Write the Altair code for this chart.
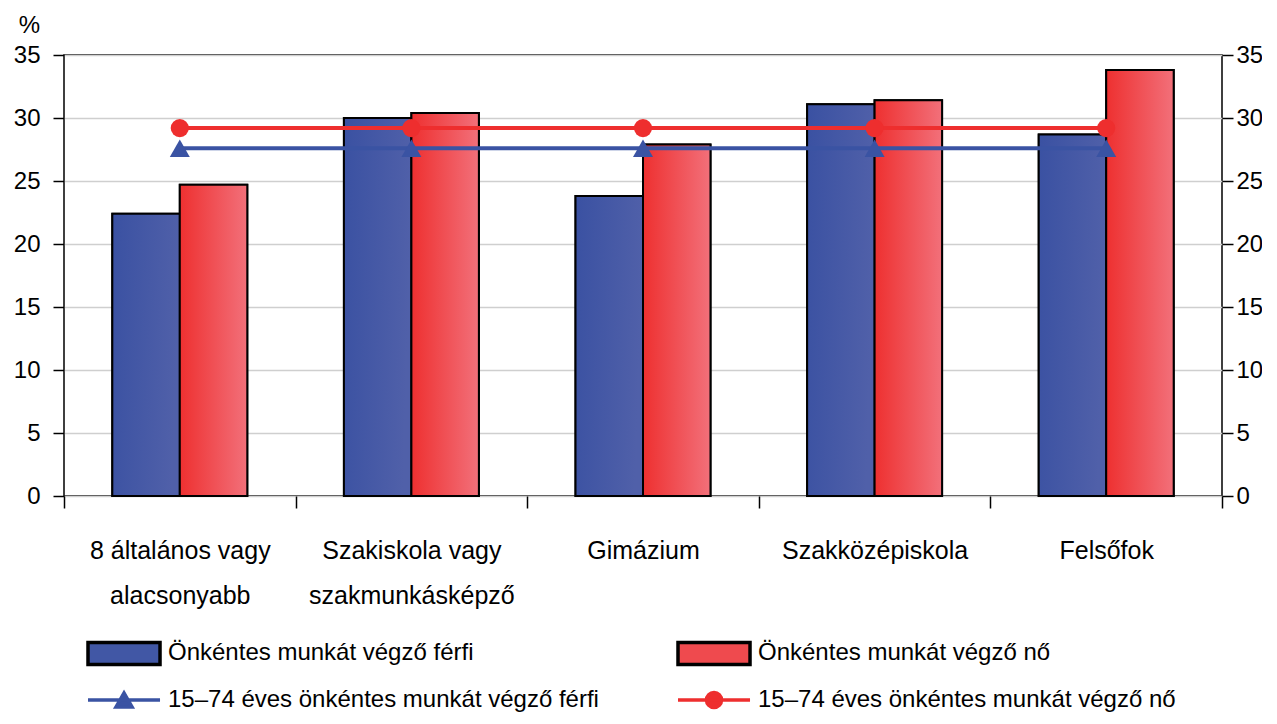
import altair as alt
import pandas as pd

categories = ["8 általános vagy|alacsonyabb", "Szakiskola vagy|szakmunkásképző",
              "Gimázium", "Szakközépiskola", "Felsőfok"]
bar_series = ["Önkéntes munkát végző férfi", "Önkéntes munkát végző nő"]
line_series = ["15–74 éves önkéntes munkát végző férfi", "15–74 éves önkéntes munkát végző nő"]
male_values = [22.4, 30.0, 23.8, 31.1, 28.7]
female_values = [24.7, 30.4, 27.9, 31.4, 33.8]
male_total = [27.6, 27.6, 27.6, 27.6, 27.6]
female_total = [29.2, 29.2, 29.2, 29.2, 29.2]
y_ticks = [0, 5, 10, 15, 20, 25, 30, 35]

bars_df = pd.DataFrame(
    [{"cat": c, "series": bar_series[0], "value": v} for c, v in zip(categories, male_values)]
    + [{"cat": c, "series": bar_series[1], "value": v} for c, v in zip(categories, female_values)]
)
lines_df = pd.DataFrame(
    [{"cat": c, "series": line_series[0], "value": v} for c, v in zip(categories, male_total)]
    + [{"cat": c, "series": line_series[1], "value": v} for c, v in zip(categories, female_total)]
)
all_series = bar_series + line_series

FONT = "Liberation Sans"
BLUE = "#4157A5"
RED = "#EF4A4E"
LBLUE = "#3A53A3"
LRED = "#EE2E2E"

blue_grad = {"gradient": "linear", "x1": 0, "y1": 0, "x2": 1, "y2": 0.15,
             "stops": [{"offset": 0, "color": "#3A51A2"}, {"offset": 1, "color": "#5060A9"}]}
red_grad = {"gradient": "linear", "x1": 0, "y1": 0, "x2": 1, "y2": 0,
            "stops": [{"offset": 0, "color": "#EE3030"}, {"offset": 1, "color": "#F2707A"}]}

# legend symbol paths (unit = 13 px, symbol spans 72 px to the right of its start)
RECT = "M-1,-0.85L4.54,-0.85L4.54,0.85L-1,0.85Z"
TRI = "M-1,0L4.54,0M1.15,0.54L1.77,-0.54L2.39,0.54Z"
CIRC = "M-1,0L4.54,0M1.19,0A0.58,0.58 0 1,1 2.35,0A0.58,0.58 0 1,1 1.19,0Z"

fill_scale = alt.Scale(domain=all_series, range=[BLUE, RED, LBLUE, LRED])
stroke_scale = alt.Scale(domain=all_series, range=["black", "black", LBLUE, LRED])
shape_scale = alt.Scale(domain=all_series, range=[RECT, RECT, TRI, CIRC])

LEG = alt.Legend(title=None, orient="none", legendX=22, legendY=583, direction="horizontal",
                 columns=2, columnPadding=72, rowPadding=13, symbolSize=676,
                 symbolStrokeWidth=3.5, symbolOpacity=1, labelFontSize=24, labelFont=FONT,
                 labelColor="black", labelOffset=52, padding=0, labelLimit=0)

x_enc = alt.X("cat:N", sort=categories,
              scale=alt.Scale(domain=categories, paddingInner=0, paddingOuter=0),
              axis=alt.Axis(title=None, labelExpr="split(datum.label, '|')", tickBand="extent",
                            tickSize=12, tickWidth=1.5, tickColor="black", labelPadding=30,
                            labelFontSize=25, labelLineHeight=45, labelFont=FONT, labelColor="black",
                            labelAngle=0, domain=False, grid=False, labelLimit=400))
y_scale = alt.Scale(domain=[0, 35], nice=False, zero=True)
y_left = alt.Y("value:Q", scale=y_scale,
               axis=alt.Axis(values=y_ticks, title="%", titleAngle=0, titleX=-35, titleY=-30,
                             titleAlign="center", titleBaseline="middle", titleFontSize=24,
                             titleFontWeight="normal", titleFont=FONT, titleColor="black",
                             grid=True, gridColor="#cfcfcf", gridWidth=1.5, domain=False,
                             tickSize=11, tickWidth=1.5, tickColor="black", labelPadding=13,
                             labelFontSize=24, labelFont=FONT, labelColor="black"))
xoff = alt.XOffset("series:N", sort=bar_series,
                   scale=alt.Scale(domain=bar_series, paddingOuter=0.716, paddingInner=0))

bar_base = alt.Chart(bars_df).mark_bar(strokeWidth=2).encode(
    x=x_enc, xOffset=xoff, y=y_left,
    fill=alt.Fill("series:N", scale=fill_scale, legend=LEG),
    stroke=alt.Stroke("series:N", scale=stroke_scale, legend=LEG),
)
bar_male = alt.Chart(bars_df).transform_filter(
    alt.datum.series == bar_series[0]
).mark_bar(fill=blue_grad, stroke="black", strokeWidth=2).encode(x=x_enc, xOffset=xoff, y=y_left)
bar_female = alt.Chart(bars_df).transform_filter(
    alt.datum.series == bar_series[1]
).mark_bar(fill=red_grad, stroke="black", strokeWidth=2).encode(x=x_enc, xOffset=xoff, y=y_left)

lines = alt.Chart(lines_df).mark_line(strokeWidth=4).encode(
    x=x_enc, y=y_left,
    stroke=alt.Stroke("series:N", scale=stroke_scale, legend=LEG),
)
pt_male = alt.Chart(lines_df).transform_filter(
    alt.datum.series == line_series[0]
).mark_point(filled=True, size=400, shape="triangle-up", color=LBLUE, opacity=1).encode(x=x_enc, y=y_left)
pt_female = alt.Chart(lines_df).transform_filter(
    alt.datum.series == line_series[1]
).mark_point(filled=True, size=330, shape="circle", color=LRED, opacity=1).encode(x=x_enc, y=y_left)

legend_layer = alt.Chart(lines_df).transform_filter("false").mark_point(filled=True).encode(
    fill=alt.Fill("series:N", scale=fill_scale, legend=LEG),
    stroke=alt.Stroke("series:N", scale=stroke_scale, legend=LEG),
    shape=alt.Shape("series:N", scale=shape_scale, legend=LEG),
)

main = alt.layer(bar_base, bar_male, bar_female, lines, pt_male, pt_female, legend_layer)

right_axis = alt.Chart(lines_df).mark_point(opacity=0).encode(
    y=alt.Y("value:Q", scale=y_scale,
            axis=alt.Axis(values=y_ticks, orient="right", title=None, grid=False, domain=False,
                          tickSize=11, tickWidth=1.5, tickColor="black", labelPadding=3,
                          labelFontSize=24, labelFont=FONT, labelColor="black"))
)

chart = alt.layer(main, right_axis).resolve_scale(y="independent").properties(
    width=1158, height=441,
    autosize=alt.AutoSizeParams(type="none"),
    padding={"left": 56, "top": 47, "right": 40, "bottom": 216},
    background="white",
).configure_view(stroke="black", strokeWidth=1.5)

chart.save("out.html", embed_options={"renderer": "svg", "actions": False})
